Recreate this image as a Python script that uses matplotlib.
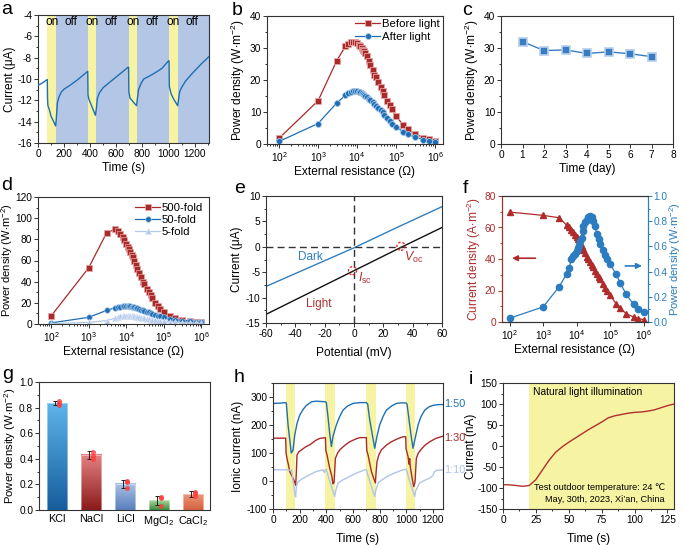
import numpy as np
import matplotlib
matplotlib.use('Agg')
import matplotlib.pyplot as plt
from matplotlib.ticker import AutoMinorLocator, MultipleLocator, LogLocator, NullFormatter
from matplotlib.patches import Ellipse
from matplotlib.colors import LinearSegmentedColormap

plt.rcParams['font.family'] = ['Liberation Sans', 'DejaVu Sans']
plt.rcParams['mathtext.fontset'] = 'custom'
plt.rcParams['mathtext.rm'] = 'Liberation Sans'
plt.rcParams['mathtext.it'] = 'Liberation Sans:italic'
plt.rcParams['mathtext.bf'] = 'Liberation Sans:bold'
plt.rcParams['axes.unicode_minus'] = False

TICK = 7.3
LAB = 8.6
LET = 14
TXT = 8.2

RED = '#a82a2a'
BLUE = '#1f6eb3'
LBLUE = '#b3c8ea'
YEL = '#f6f3a2'
BGBLUE = '#b4c6e5'

# ---------------- data ----------------
# a
a_on = [(71, 140), (381, 447), (694, 757), (1004, 1073)]
a_t = [0, 30, 71, 73, 76, 85, 100, 120, 135, 140, 148, 160, 180, 200, 250, 300, 350, 378,
       381, 383, 390, 410, 430, 440, 447, 455, 470, 500, 550, 600, 650, 690,
       694, 696, 705, 720, 740, 755, 760, 770, 790, 810, 850, 900, 950, 1000,
       1004, 1006, 1020, 1040, 1060, 1070, 1076, 1085, 1100, 1130, 1180, 1250, 1310]
a_i = [-10.58, -10.4, -10.05, -11.8, -12.5, -12.8, -13.5, -14.0, -14.4, -13.8, -12.3, -11.7, -11.2, -10.95, -10.55, -10.1, -9.6, -9.3,
       -9.3, -11.5, -11.9, -12.5, -13.1, -13.4, -12.8, -11.8, -11.3, -10.8, -10.3, -9.8, -9.3, -8.9,
       -8.9, -11.2, -11.8, -12.0, -12.3, -12.5, -12.0, -11.0, -10.4, -10.0, -9.75, -9.4, -9.0, -8.3,
       -8.3, -10.7, -11.4, -11.9, -12.3, -12.5, -12.0, -11.2, -10.8, -10.2, -9.5, -8.6, -7.9]

# b, d, f shared resistance grid
R = [1e2, 1e3, 3e3, 5e3, 6e3, 7e3, 8e3, 9e3, 1e4, 1.1e4, 1.2e4, 1.3e4, 1.4e4, 1.5e4, 1.6e4, 1.8e4,
     2e4, 2.2e4, 2.5e4, 2.8e4, 3e4, 3.5e4, 4e4, 4.5e4, 5e4, 6e4, 7e4, 8e4, 1e5, 1.5e5, 2e5, 3e5,
     5e5, 7e5, 1e6]
b_before = [1.8, 13.5, 26, 30.5, 31.3, 31.8, 32, 31.8, 31.5, 31, 30.5, 30, 29.5, 29, 28.5, 27.5,
            26, 24.8, 23.2, 21.5, 20.8, 19.3, 17.9, 16.5, 15.3, 13.5, 12.2, 10.8, 8.8, 6, 4.8, 3.2,
            2, 1.5, 1]
b_after = [0.8, 6.4, 12.8, 15.2, 15.8, 16.2, 16.5, 16.6, 16.5, 16.4, 16.2, 16, 15.7, 15.4, 15.1, 14.6,
           14.1, 13.6, 13, 12.4, 12, 11.3, 10.6, 10, 9.1, 8, 7.1, 6.3, 5.4, 3.9, 3, 2.2,
           1.4, 1, 0.7]

# c
c_day = [1, 2, 3, 4, 5, 6, 7]
c_pd = [32, 29.2, 29.4, 28.3, 28.8, 28.2, 27.3]

# d
d_500 = [7.5, 53, 86, 89.5, 88, 85, 82, 79, 76, 73, 70.5, 68, 65.5, 63, 60, 56,
         52, 48.5, 44, 40, 38, 33.5, 30, 27, 24.5, 20, 17, 14.5, 11.5, 7.5, 5.5, 4,
         2.8, 2, 1.5]
d_50 = [1, 6.3, 12.8, 15.3, 16, 16.5, 16.8, 17, 17, 17, 16.8, 16.6, 16.4, 16.1, 15.8, 15.3,
        14.8, 14.3, 13.6, 13, 12.6, 11.8, 11, 10.4, 9.8, 8.8, 8, 7.3, 6.3, 4.8, 4, 3.3,
        2.6, 2.2, 1.8]
d_5 = [0.3, 1.5, 3.2, 5.5, 6.5, 7.2, 7.6, 7.9, 8, 8, 7.9, 7.8, 7.6, 7.4, 7.2, 6.9,
       6.6, 6.3, 5.9, 5.5, 5.3, 4.9, 4.5, 4.2, 3.9, 3.5, 3.1, 2.8, 2.4, 1.9, 1.6, 1.3,
       1, 0.8, 0.6]

# e
e_v = [-60, -30, 0, 30, 60]
e_dark = [-7.8, -4.0, -0.2, 3.9, 7.9]
e_light = [-13.3, -9.0, -4.7, -0.4, 3.8]
e_isc = (-1, -4.7)
e_voc = (32, 0.1)

# f
f_cur = [69.8, 67.7, 66.2, 61.5, 60, 58.5, 57, 55.5, 54, 52.5, 51, 49.5, 48, 46.5, 45.5, 43.5,
         41.5, 40, 38, 36, 35, 32.5, 30.5, 28.5, 27, 24, 21.5, 20, 17, 11.6, 8.9, 5.3,
         3.2, 2.2, 1.5]
f_pow = [0.03, 0.12, 0.28, 0.38, 0.43, 0.5, 0.52, 0.54, 0.56, 0.59, 0.61, 0.64, 0.67, 0.72, 0.76, 0.79,
         0.81, 0.83, 0.84, 0.83, 0.8, 0.76, 0.7, 0.66, 0.62, 0.57, 0.53, 0.5, 0.46, 0.38, 0.31, 0.22,
         0.14, 0.1, 0.08]

# g
g_salts = ['KCl', 'NaCl', 'LiCl', 'MgCl$_2$', 'CaCl$_2$']
g_mean = [0.835, 0.43, 0.205, 0.075, 0.125]
g_err = [0.015, 0.03, 0.03, 0.035, 0.02]
g_pts = [[0.82, 0.835, 0.85], [0.40, 0.42, 0.45], [0.17, 0.22, 0.23], [0.03, 0.09, 0.10], [0.11, 0.13, 0.14]]
g_top = ['#5db4ea', '#e48282', '#a9c2e6', '#a8d89e', '#eb9676']
g_bot = ['#165d9d', '#8c1b1b', '#5a7fbd', '#3c8a3c', '#d3613f']

# h
h_on = [(95, 163), (393, 463), (700, 770), (995, 1068)]
h50_t = [0, 50, 95, 100, 113, 125, 137, 150, 163, 180, 200, 225, 250, 290, 325, 360, 393, 400, 410, 425,
         438, 450, 475, 500, 525, 560, 600, 650, 700, 710, 725, 745, 763, 780, 800, 825, 850, 890, 925,
         960, 995, 1005, 1020, 1035, 1050, 1065, 1088, 1110, 1138, 1170, 1200, 1240, 1275]
h50_v = [277, 278, 280, 278, 200, 150, 100, 110, 164, 205, 235, 255, 270, 283, 285, 284, 283, 280, 240, 170,
         123, 160, 200, 230, 253, 268, 277, 280, 280, 275, 220, 165, 117, 160, 200, 230, 253, 268, 277,
         279, 279, 275, 220, 165, 117, 150, 200, 230, 253, 265, 270, 273, 273]
h30_t = [0, 50, 95, 98, 105, 115, 125, 140, 155, 165, 170, 175, 180, 195, 213, 245, 275, 320, 350, 393,
         396, 405, 425, 440, 450, 458, 468, 485, 500, 540, 575, 620, 650, 700, 703, 713, 738, 755, 768,
         773, 780, 795, 813, 850, 888, 930, 975, 995, 998, 1013, 1020, 1025, 1030, 1040, 1055, 1065,
         1075, 1090, 1113, 1140, 1175, 1220, 1275]
h30_v = [153, 153, 153, 100, 80, 60, 34, 20, 5, -7, -15, 30, 93, 105, 111, 122, 129, 145, 152, 155,
         110, 93, 46, 20, -10, -5, 81, 100, 111, 128, 140, 150, 155, 155, 110, 93, 34, 10, -7,
         30, 69, 95, 111, 128, 140, 150, 158, 158, 115, 87, 60, 80, 50, 20, -20, -5,
         81, 100, 114, 128, 140, 152, 160]
h10_t = [0, 100, 140, 145, 150, 155, 163, 170, 175, 188, 220, 250, 290, 325, 375, 385, 392, 400, 425, 445,
         463, 470, 488, 520, 550, 590, 625, 688, 700, 725, 745, 763, 770, 790, 830, 870, 920, 975,
         1000, 1025, 1045, 1063, 1070, 1100, 1140, 1175, 1200, 1210, 1225, 1275]
h10_v = [40, 40, 38, 20, 0, -13, -45, -57, -20, -2, 8, 16, 26, 34, 40, 30, 40, 41, 0, -30,
         -55, -35, -7, 3, 10, 20, 28, 40, 40, 0, -30, -55, -35, -5, 8, 20, 30, 40,
         42, 0, -30, -55, -35, -7, 3, 10, 20, 32, 38, 40]
h_labels = ['1:50', '1:30', '1:10']
h_label_y = [275, 155, 40]

# i
i_t = [0, 5, 10, 15, 20, 25, 30, 35, 40, 45, 50, 55, 60, 65, 70, 75, 80, 85, 90, 95, 100, 105, 110, 115, 120, 125, 130]
i_v = [-92, -92.5, -94, -96, -94, -80, -57, -34, -15, -2, 9, 19, 29, 39, 48, 57, 67, 72, 75, 78, 80, 81, 83, 86, 91, 96, 100]
i_light_start = 20

# ---------------- figure ----------------
W, H = 685, 545
fig = plt.figure(figsize=(W / 100, H / 100), dpi=100)


def add_ax(l, r, t, b):
    return fig.add_axes([l / W, 1 - b / H, (r - l) / W, (b - t) / H])


def style(ax, xminor=True, yminor=True, logx=False):
    for s in ax.spines.values():
        s.set_linewidth(0.8)
        s.set_color('#333333')
    ax.tick_params(which='both', direction='out', labelsize=TICK, width=0.7, color='#333333', pad=1.2)
    ax.tick_params(which='major', length=3.0)
    ax.tick_params(which='minor', length=1.7)
    if logx:
        ax.set_xscale('log')
        ax.xaxis.set_major_locator(LogLocator(base=10, numticks=10))
        ax.xaxis.set_minor_locator(LogLocator(base=10, subs=np.arange(2, 10), numticks=20))
        ax.xaxis.set_minor_formatter(NullFormatter())
    elif xminor:
        ax.xaxis.set_minor_locator(AutoMinorLocator(2))
    if yminor:
        ax.yaxis.set_minor_locator(AutoMinorLocator(2))


def letter(x, y, s):
    fig.text(x / W, 1 - y / H, s, fontsize=LET, va='baseline', ha='left')


PD = 'Power density (W$\\cdot$m$^{-2}$)'

# ---- a ----
ax = add_ax(38, 209, 15, 143)
style(ax)
ax.set_xlim(0, 1310)
ax.set_ylim(-16, -4)
ax.axvspan(a_on[0][0], 1310, color=BGBLUE, lw=0, zorder=0)
for s, e in a_on:
    ax.axvspan(s, e, color=YEL, lw=0, zorder=1)
    ax.text((s + e) / 2, -4.65, 'on', ha='center', va='center', fontsize=8.6)
for k in range(len(a_on)):
    s = a_on[k][1]
    e = a_on[k + 1][0] if k + 1 < len(a_on) else 1310
    ax.text((s + e) / 2 - 10, -4.65, 'off', ha='center', va='center', fontsize=8.6)
ax.plot(a_t, a_i, color=BLUE, lw=1.0, zorder=3)
ax.xaxis.set_major_locator(MultipleLocator(200))
ax.yaxis.set_major_locator(MultipleLocator(2))
ax.set_xlabel('Time (s)', fontsize=LAB, labelpad=2)
ax.set_ylabel('Current (μA)', fontsize=LAB, labelpad=1)
letter(1, 14, 'a')

# ---- b ----
ax = add_ax(267, 443, 16, 144)
style(ax, logx=True)
ax.plot(R, b_before, '-s', color=RED, ms=4, mec='#e9a5a5', mew=0.6, lw=0.9, label='Before light')
ax.plot(R, b_after, '-o', color=BLUE, ms=4.3, mec='#a8c8ec', mew=0.6, lw=0.9, label='After light')
ax.set_xlim(49, 1.6e6)
ax.set_ylim(0, 40)
ax.yaxis.set_major_locator(MultipleLocator(10))
ax.set_xlabel('External resistance (Ω)', fontsize=LAB, labelpad=2)
ax.set_ylabel(PD, fontsize=LAB, labelpad=2)
ax.legend(loc='upper right', fontsize=TXT, frameon=False, handlelength=2.2, handletextpad=0.15,
          borderaxespad=0.1, labelspacing=0.2, borderpad=0.2)
letter(232, 15, 'b')

# ---- c ----
ax = add_ax(501, 673, 16, 144)
style(ax)
ax.plot(c_day, c_pd, '-s', color='#3a7cc0', ms=5.2, mec='#b5cfee', mew=1.2, lw=1.0)
ax.set_xlim(0, 8)
ax.set_ylim(0, 40)
ax.xaxis.set_major_locator(MultipleLocator(1))
ax.xaxis.set_minor_locator(MultipleLocator(1))
ax.yaxis.set_major_locator(MultipleLocator(10))
ax.set_xlabel('Time (day)', fontsize=LAB, labelpad=2)
ax.set_ylabel(PD, fontsize=LAB, labelpad=2)
letter(462, 15, 'c')

# ---- d ----
ax = add_ax(38, 209, 197, 324)
style(ax, logx=True)
ax.plot(R, d_500, '-s', color=RED, ms=3.8, mec='#e9a5a5', mew=0.5, lw=0.9, label='500-fold')
ax.plot(R, d_50, '-o', color=BLUE, ms=4.0, mec='#a8c8ec', mew=0.5, lw=0.9, label='50-fold')
ax.plot(R, d_5, '-^', color=LBLUE, ms=4.0, mec='#dde7f6', mew=0.5, lw=0.9, label='5-fold')
ax.set_xlim(45, 1.6e6)
ax.set_ylim(0, 120)
ax.yaxis.set_major_locator(MultipleLocator(20))
ax.set_xlabel('External resistance (Ω)', fontsize=LAB, labelpad=2)
ax.set_ylabel(PD, fontsize=8.0, labelpad=0)
ax.legend(loc='upper right', fontsize=TXT, frameon=False, handlelength=2.2, handletextpad=0.15,
          borderaxespad=0.2, labelspacing=0.2, borderpad=0.3)
letter(1, 190, 'd')

# ---- e ----
ax = add_ax(266, 442, 196, 323)
style(ax)
ax.plot(e_v, e_dark, color='#2f7fc1', lw=1.0)
ax.plot(e_v, e_light, color='#111111', lw=1.0)
ax.axhline(0, color='#333333', lw=1.0, ls=(0, (5, 3)))
ax.axvline(0, color='#333333', lw=1.0, ls=(0, (5, 3)))
for c in (e_isc, e_voc):
    ax.add_patch(Ellipse(c, 5.5, 1.6, fc='none', ec='#e02020', lw=0.9, ls=(0, (2, 1.5)), zorder=5))
ax.text(-30, -2.0, 'Dark', color='#2f7fc1', fontsize=TXT + 0.3, ha='center', va='center')
ax.text(-24, -11.3, 'Light', color='#b03030', fontsize=TXT + 0.3, ha='center', va='center')
ax.text(3, -6.3, '$\\mathit{I}_{\\mathrm{sc}}$', color='#b03030', fontsize=TXT + 0.8, ha='left', va='center')
ax.text(34, -2.0, '$\\mathit{V}_{\\mathrm{oc}}$', color='#b03030', fontsize=TXT + 0.8, ha='left', va='center')
ax.set_xlim(-60, 60)
ax.set_ylim(-15, 10)
ax.xaxis.set_major_locator(MultipleLocator(20))
ax.yaxis.set_major_locator(MultipleLocator(5))
ax.set_xlabel('Potential (mV)', fontsize=LAB, labelpad=6)
ax.set_ylabel('Current (μA)', fontsize=LAB, labelpad=2)
letter(234, 193, 'e')

# ---- f ----
FRED = '#b02c2c'
FBLUE = '#2b7cc0'
ax = add_ax(502, 648, 196, 322)
style(ax, logx=True)
ax2 = ax.twinx()
style(ax2)
ax.plot(R, f_cur, '-^', color=FRED, ms=4.2, mec=FRED, lw=0.9)
ax2.plot(R, f_pow, '-o', color=FBLUE, ms=4.5, mec=FBLUE, lw=0.9)
ax.set_xlim(59, 1.35e6)
ax.set_ylim(0, 80)
ax2.set_ylim(0, 1.0)
ax.yaxis.set_major_locator(MultipleLocator(20))
ax2.yaxis.set_major_locator(MultipleLocator(0.2))
ax2.yaxis.set_minor_locator(AutoMinorLocator(2))
ax.spines['left'].set_color(FRED)
ax2.spines['left'].set_color(FRED)
ax2.spines['right'].set_color(FBLUE)
ax.spines['right'].set_color(FBLUE)
ax.tick_params(axis='y', which='both', colors=FRED)
ax2.tick_params(axis='y', which='both', colors=FBLUE, pad=1)
ax.set_xlabel('External resistance (Ω)', fontsize=LAB, labelpad=2)
ax.set_ylabel('Current density (A$\\cdot$m$^{-2}$)', fontsize=LAB, color=FRED, labelpad=1)
ax2.set_ylabel(PD, fontsize=8.0, color=FBLUE, labelpad=0)
ax.annotate('', xy=(10 ** 2.07, 40.5), xytext=(10 ** 2.77, 40.5),
            arrowprops=dict(arrowstyle='-|>', color=FRED, lw=1.2, mutation_scale=8, shrinkA=0, shrinkB=0))
ax2.annotate('', xy=(10 ** 5.95, 0.445), xytext=(10 ** 5.45, 0.445),
             arrowprops=dict(arrowstyle='-|>', color=FBLUE, lw=1.2, mutation_scale=8, shrinkA=0, shrinkB=0))
letter(463, 193, 'f')

# ---- g ----
ax = add_ax(39, 210, 382, 510)
style(ax, xminor=False)
xs = np.arange(len(g_salts))
bw = 0.6
for k in range(len(g_salts)):
    cmap = LinearSegmentedColormap.from_list('g%d' % k, [g_bot[k], g_top[k]])
    grad = np.linspace(0, 1, 100).reshape(-1, 1)
    ax.imshow(grad, cmap=cmap, origin='lower', aspect='auto',
              extent=(xs[k] - bw / 2, xs[k] + bw / 2, 0, g_mean[k]), zorder=2)
    ax.add_patch(plt.Rectangle((xs[k] - bw / 2, 0), bw, g_mean[k], fc='none', ec='white', lw=0.5, alpha=0.6, zorder=3))
ax.errorbar(xs - 0.05, g_mean, yerr=g_err, fmt='none', ecolor='#222222', elinewidth=0.7, capsize=1.8, capthick=0.7, zorder=4)
for k in range(len(g_salts)):
    ax.scatter([xs[k] + 0.07] * len(g_pts[k]), g_pts[k], s=13, color='#ff3b3b', alpha=0.8, lw=0, zorder=5)
ax.set_xlim(-0.53, 4.5)
ax.set_ylim(0, 1.0)
ax.set_xticks(xs)
ax.set_xticklabels(g_salts, fontsize=7.8)
ax.tick_params(axis='x', which='both', length=0, pad=3)
ax.yaxis.set_major_locator(MultipleLocator(0.2))
ax.set_ylabel(PD, fontsize=8.2, labelpad=0.5)
letter(2, 379, 'g')

# ---- h ----
ax = add_ax(273, 443, 383, 509)
style(ax)
for s, e in h_on:
    ax.axvspan(s, e, color=YEL, lw=0, zorder=0)
ax.plot(h50_t, h50_v, color='#1f6fb2', lw=1.0)
ax.plot(h30_t, h30_v, color='#a92a2a', lw=1.0)
ax.plot(h10_t, h10_v, color='#b0c5e8', lw=1.0)
for lab, y, c in zip(h_labels, h_label_y, ['#1f6fb2', '#a92a2a', '#b0c5e8']):
    ax.text(1.006, y, lab, color=c, fontsize=7.8, va='center', ha='left', transform=ax.get_yaxis_transform())
ax.set_xlim(0, 1275)
ax.set_ylim(-100, 350)
ax.xaxis.set_major_locator(MultipleLocator(200))
ax.yaxis.set_major_locator(MultipleLocator(100))
ax.set_xlabel('Time (s)', fontsize=LAB, labelpad=6)
ax.set_ylabel('Ionic current (nA)', fontsize=LAB, labelpad=2)
letter(234, 382, 'h')

# ---- i ----
ax = add_ax(503, 674, 383, 509)
style(ax)
ax.axvspan(i_light_start, 130, color=YEL, lw=0, zorder=0)
ax.plot(i_t, i_v, color='#b03030', lw=1.0)
ax.text(23, 129, 'Natural light illumination', fontsize=7.4, ha='left', va='center')
ax.text(123, -98, 'Test outdoor temperature: 24 ℃', fontsize=6.6, ha='right', va='center')
ax.text(123, -127, "May, 30th, 2023, Xi’an, China", fontsize=6.6, ha='right', va='center')
ax.set_xlim(0, 130)
ax.set_ylim(-150, 150)
ax.xaxis.set_major_locator(MultipleLocator(25))
ax.yaxis.set_major_locator(MultipleLocator(50))
ax.tick_params(axis='y', pad=1)
ax.set_xlabel('Time (s)', fontsize=LAB, labelpad=6)
ax.set_ylabel('Current (nA)', fontsize=LAB, labelpad=0)
letter(469, 384, 'i')

fig.savefig('out.png', dpi=100)
